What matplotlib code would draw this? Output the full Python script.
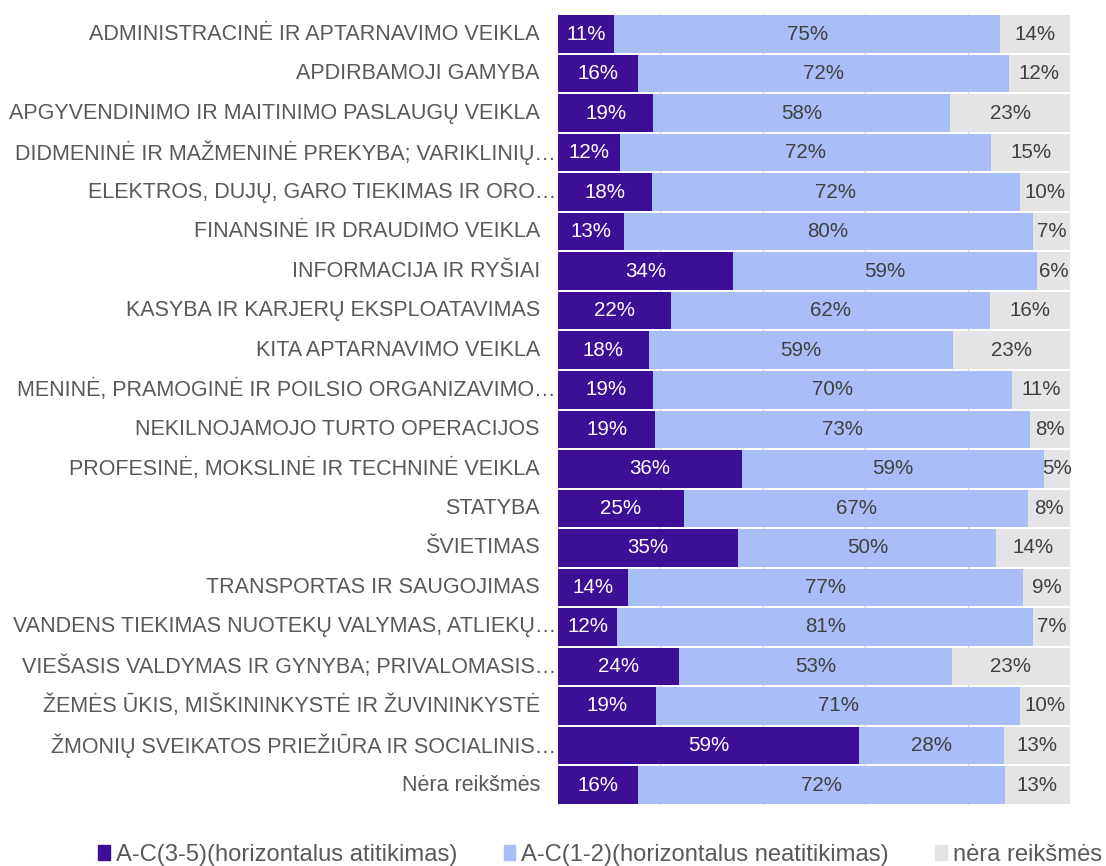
import numpy as np
import matplotlib.pyplot as plt
import matplotlib.transforms as mtransforms
from matplotlib.patches import Patch

plt.rcParams['font.family'] = ['Liberation Sans', 'DejaVu Sans']

categories = [
    "ADMINISTRACINĖ IR APTARNAVIMO VEIKLA",
    "APDIRBAMOJI GAMYBA",
    "APGYVENDINIMO IR MAITINIMO PASLAUGŲ VEIKLA",
    "DIDMENINĖ IR MAŽMENINĖ PREKYBA; VARIKLINIŲ…",
    "ELEKTROS, DUJŲ, GARO TIEKIMAS IR ORO…",
    "FINANSINĖ IR DRAUDIMO VEIKLA",
    "INFORMACIJA IR RYŠIAI",
    "KASYBA IR KARJERŲ EKSPLOATAVIMAS",
    "KITA APTARNAVIMO VEIKLA",
    "MENINĖ, PRAMOGINĖ IR POILSIO ORGANIZAVIMO…",
    "NEKILNOJAMOJO TURTO OPERACIJOS",
    "PROFESINĖ, MOKSLINĖ IR TECHNINĖ VEIKLA",
    "STATYBA",
    "ŠVIETIMAS",
    "TRANSPORTAS IR SAUGOJIMAS",
    "VANDENS TIEKIMAS NUOTEKŲ VALYMAS, ATLIEKŲ…",
    "VIEŠASIS VALDYMAS IR GYNYBA; PRIVALOMASIS…",
    "ŽEMĖS ŪKIS, MIŠKININKYSTĖ IR ŽUVININKYSTĖ",
    "ŽMONIŲ SVEIKATOS PRIEŽIŪRA IR SOCIALINIS…",
    "Nėra reikšmės",
]

# A-C(3-5) horizontalus atitikimas
match = [11.0, 15.6, 18.6, 12.2, 18.3, 12.8, 34.2, 22.0, 17.7, 18.6,
         19.0, 35.9, 24.6, 35.2, 13.6, 11.6, 23.6, 19.1, 58.7, 15.6]
# A-C(1-2) horizontalus neatitikimas
mismatch = [75.3, 72.4, 58.0, 72.4, 71.9, 79.9, 59.4, 62.4, 59.4, 70.0,
            73.2, 59.0, 67.2, 50.4, 77.3, 81.2, 53.3, 71.2, 28.4, 71.6]
# nėra reikšmės
missing = [13.7, 12.0, 23.4, 15.4, 9.8, 7.3, 6.4, 15.6, 22.9, 11.4,
           7.8, 5.1, 8.2, 14.4, 9.1, 7.2, 23.1, 9.7, 12.9, 12.8]

series_names = ["A-C(3-5)(horizontalus atitikimas)",
                "A-C(1-2)(horizontalus neatitikimas)",
                "nėra reikšmės"]
colors = ["#3d0f97", "#a9bdf6", "#e4e4e4"]
text_colors = ["white", "#404040", "#404040"]

fig = plt.figure(figsize=(11.06, 8.66), dpi=100)
ax = fig.add_axes([0.5045, 0.0707, 0.463, 0.9128])

y = np.arange(len(categories))
left = np.zeros(len(categories))
for vals, col, tcol in zip([match, mismatch, missing], colors, text_colors):
    vals = np.array(vals)
    ax.barh(y, vals, left=left, height=0.95, color=col, zorder=2)
    for yi, l, v in zip(y, left, vals):
        ax.text(l + v / 2, yi, f"{v:.0f}%", ha="center", va="center",
                color=tcol, fontsize=14.8, zorder=3)
    left += vals

ax.set_xlim(0, 100)
ax.set_ylim(len(categories) - 0.5, -0.5)
ax.set_xticks([0, 20, 40, 60, 80, 100])
ax.set_xticklabels([])
ax.grid(axis="x", color="#d9d9d9", lw=1, zorder=0)
ax.set_yticks(y)
ax.set_yticklabels([])
ax.tick_params(axis="both", length=0)
for s in ax.spines.values():
    s.set_visible(False)

# category labels; truncated ones (with …) sit closer to the bars, like Excel
for yi, cat in zip(y, categories):
    off = -2 if cat.endswith("…") else -18
    tr = mtransforms.offset_copy(ax.get_yaxis_transform(), fig=fig, x=off, units="dots")
    ax.text(0, yi, cat, transform=tr, ha="right", va="center",
            fontsize=15.5, color="#595959")

handles = [Patch(color=c) for c in colors]
fig.legend(handles, series_names, loc="center left",
           bbox_to_anchor=(98 / 1106, 1 - 855 / 866), ncol=3, frameon=False,
           fontsize=17.1, labelcolor="#595959", handlelength=0.5,
           handleheight=0.6, handletextpad=0.25, columnspacing=1.95,
           borderpad=0, borderaxespad=0)

fig.savefig("out.png", dpi=100)
